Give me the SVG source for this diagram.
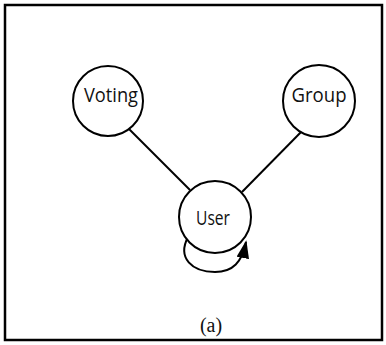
<svg xmlns="http://www.w3.org/2000/svg" width="386" height="345" viewBox="0 0 386 345">
<style>
.node{fill:#fff;stroke:#000;stroke-width:2}
.lbl{font-family:"Open Sans","Liberation Sans",Arial,sans-serif;font-size:19.5px;fill:#111;text-anchor:middle}
.edge{fill:none;stroke:#000;stroke-width:2}
</style>
<defs>
<marker id="ah" viewBox="0 0 10 7" refX="9" refY="3.5" markerWidth="9" markerHeight="6.3" orient="auto" markerUnits="strokeWidth">
<path d="M0,0 L10,3.5 L0,7 z" fill="#000"/>
</marker>
</defs>
<rect x="5" y="5" width="377" height="335" fill="#fff" stroke="#000" stroke-width="2.5"/>
<g id="connectors">
<line class="edge" x1="126" y1="126" x2="190" y2="190"/>
<line class="edge" x1="305" y1="128" x2="242" y2="192"/>
<path class="edge" d="M188,237 C177,258 192,272 215,272 C233,272 242,262 246,242" marker-end="url(#ah)"/>
</g>
<g id="voting"><circle class="node" cx="108" cy="101" r="35"/><text class="lbl" x="111" y="101.5" textLength="54" lengthAdjust="spacingAndGlyphs">Voting</text></g>
<g id="group"><circle class="node" cx="319" cy="101" r="36"/><text class="lbl" x="319" y="101.5" textLength="55" lengthAdjust="spacingAndGlyphs">Group</text></g>
<g id="user"><circle class="node" cx="215" cy="217" r="36"/><text class="lbl" x="213" y="225" textLength="34" lengthAdjust="spacingAndGlyphs">User</text></g>
<text x="211" y="331.5" font-family="'Liberation Serif','Times New Roman',serif" font-size="20" fill="#111" text-anchor="middle">(a)</text>
</svg>
